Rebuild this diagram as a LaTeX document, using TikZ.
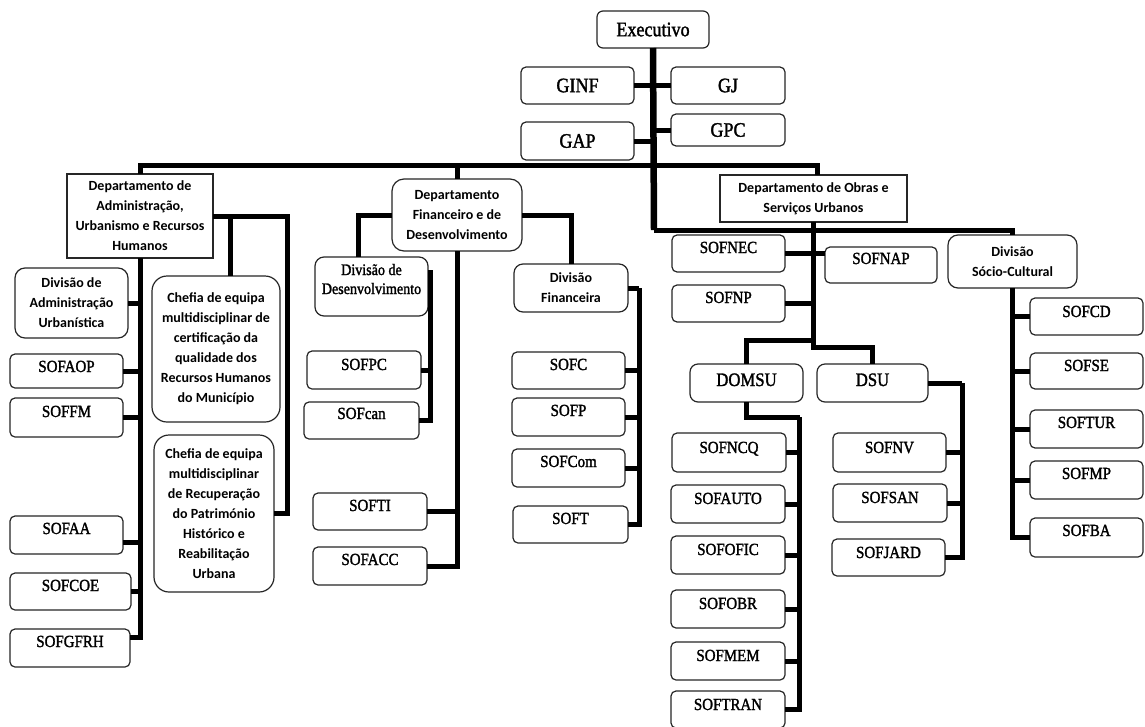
\documentclass[tikz,border=0pt]{standalone}
\usepackage{fontspec}
\setmainfont{Liberation Serif}
\newfontfamily\serf[FakeStretch=0.88,FakeBold=1.6]{Liberation Serif}
\newfontfamily\calb{Carlito}
\newcommand\mkbox[7]{%
 \pgfmathsetmacro\mbw{(#5)-(#3)}%
 \pgfmathsetmacro\mbh{(#6)-(#4)}%
 \node[#1, anchor=north west, minimum width=\mbw pt, minimum height=\mbh pt] (#2) at (#3,#4) {#7};}
\newcommand\mktbox[8]{%
 \pgfmathsetmacro\mbw{(#5)-(#3)}%
 \pgfmathsetmacro\mbd{(#6)-(#4)-(#8)}%
 \node[#1, anchor=north west, inner ysep=0pt, minimum width=\mbw pt, text height=#8pt, text depth=\mbd pt] (#2) at (#3,#4) {#7};}
\tikzset{
 bx/.style={draw=black!85, line width=1.2pt, fill=white, outer sep=0pt, inner sep=0pt, rounded corners=5pt},
 sof/.style={bx, font=\serf\fontsize{17}{19}\selectfont},
 gx/.style={bx, font=\serf\fontsize{20.5}{22}\selectfont},
 big/.style={bx, font=\serf\fontsize{19}{21}\selectfont, rounded corners=8pt},
 sn/.style={bx, font=\calb\bfseries\fontsize{14}{20}\selectfont, align=center},
 conn/.style={line width=5pt, line join=miter},
 trunk/.style={line width=6.5pt},
}
\begin{document}
\begin{tikzpicture}[x=1pt,y=-1pt]
\fill[white] (0,0) rectangle (1145,726);
\useasboundingbox (0,0) rectangle (1145,726);

% top
\mkbox{gx, rounded corners=6pt}{exec}{597}{11}{709}{48}{Executivo}
\mkbox{gx}{ginf}{521}{67}{634}{104}{GINF}
\mkbox{gx}{gj}{671}{67}{785}{104}{GJ}
\mkbox{gx}{gap}{521}{122}{634}{160}{GAP}
\mkbox{gx}{gpc}{671}{114}{785}{146}{GPC}

% left department
\mkbox{sn, sharp corners}{admin}{67}{174}{213}{258}{Departamento de\\Administração,\\Urbanismo e Recursos\\Humanos}
\mkbox{sn, rounded corners=10pt}{divadm}{15}{268}{128}{338}{Divisão de\\Administração\\Urbanística}
\mktbox{sof}{sofaop}{10}{354}{123}{388}{SOFAOP}{18}
\mktbox{sof}{soffm}{10}{398}{123}{437}{SOFFM}{19}
\mktbox{sof}{sofaa}{10}{516}{123}{554}{SOFAA}{18}
\mktbox{sof}{sofcoe}{10}{573}{131}{610}{SOFCOE}{18}
\mktbox{sof}{sofgfrh}{10}{629}{130}{667}{SOFGFRH}{18}
\mkbox{sn, rounded corners=15pt}{chefia1}{152}{276}{280}{422}{Chefia de equipa\\multidisciplinar de\\certificação da\\qualidade dos\\Recursos Humanos\\do Município}
\mkbox{sn, rounded corners=15pt}{chefia2}{154}{435}{274}{592}{Chefia de equipa\\multidisciplinar\\de Recuperação\\do Património\\Histórico e\\Reabilitação\\Urbana}

% middle department
\mkbox{sn, rounded corners=12pt}{deptfin}{392}{179}{522}{251}{Departamento\\Financeiro e de\\Desenvolvimento}
\mktbox{sof, font=\serf\fontsize{16}{19}\selectfont, rounded corners=9pt}{divdes}{315}{257}{428}{316}{\begin{tabular}[t]{@{}c@{}}Divisão de\\Desenvolvimento\end{tabular}}{18}
\mktbox{sof}{sofpc}{307}{351}{421}{389}{SOFPC}{19}
\mktbox{sof}{sofcan}{304}{402}{419}{439}{SOFcan}{17}
\mktbox{sof}{softi}{313}{493}{427}{530}{SOFTI}{18}
\mktbox{sof}{sofacc}{313}{547}{427}{585}{SOFACC}{18}
\mkbox{sn, rounded corners=9pt}{divfin}{514}{264}{628}{312}{Divisão\\Financeira}
\mktbox{sof}{sofc}{512}{352}{625}{389}{SOFC}{18}
\mktbox{sof}{sofp}{512}{398}{625}{436}{SOFP}{18}
\mktbox{sof}{sofcom}{512}{449}{625}{487}{SOFCom}{18}
\mktbox{sof}{soft}{513}{506}{628}{543}{SOFT}{18}

% right department
\mkbox{sn, sharp corners}{obras}{720}{175}{907}{222}{Departamento de Obras e\\Serviços Urbanos}
\mktbox{sof}{sofnec}{672}{235}{785}{272}{SOFNEC}{18}
\mktbox{sof}{sofnap}{825}{247}{937}{283}{SOFNAP}{17}
\mktbox{sof}{sofnp}{672}{285}{785}{322}{SOFNP}{18}
\mktbox{big}{domsu}{690}{364}{803}{402}{DOMSU}{22}
\mktbox{big}{dsu}{817}{364}{928}{402}{DSU}{22}
\mktbox{sof}{sofncq}{672}{433}{786}{472}{SOFNCQ}{20}
\mktbox{sof}{sofauto}{671}{485}{785}{523}{SOFAUTO}{19}
\mktbox{sof}{sofofic}{671}{536}{785}{574}{SOFOFIC}{19}
\mktbox{sof}{sofobr}{671}{590}{785}{628}{SOFOBR}{19}
\mktbox{sof}{sofmem}{671}{642}{785}{680}{SOFMEM}{19}
\mktbox{sof}{softran}{671}{691}{785}{728}{SOFTRAN}{19}
\mktbox{sof}{sofnv}{833}{433}{946}{472}{SOFNV}{20}
\mktbox{sof}{sofsan}{833}{484}{947}{522}{SOFSAN}{19}
\mktbox{sof}{sofjard}{832}{539}{945}{576}{SOFJARD}{19}
\mkbox{sn, rounded corners=10pt}{divsc}{948}{235}{1077}{288}{Divisão\\Sócio-Cultural}
\mktbox{sof}{sofcd}{1030}{298}{1143}{335}{SOFCD}{19}
\mktbox{sof}{sofse}{1030}{353}{1143}{389}{SOFSE}{18}
\mktbox{sof}{softur}{1030}{410}{1143}{448}{SOFTUR}{18}
\mktbox{sof}{sofmp}{1030}{461}{1143}{499}{SOFMP}{18}
\mktbox{sof}{sofba}{1030}{518}{1143}{557}{SOFBA}{18}

% ---- connectors ----
\coordinate (ek) at (654,230);
\draw[trunk] (exec.south) -- (ek);
\draw[conn] (ek) -| (divsc.north);
\draw[conn] (ginf.east) -- (gj.west);
\draw[conn] (gap.east) -- (gap.east -| exec.south);
\draw[conn] (gpc.west) -- (gpc.west -| exec.south);
\draw[conn] (admin.north) -- ++(0,-9) -| ([xshift=4pt]obras.north);
\draw[conn] (deptfin.north) -- ++(0,-14);

% left
\draw[conn] (divadm.east) -| (admin.south);
\draw[conn] (sofaop.east) -| (admin.south);
\draw[conn] (soffm.east) -| (admin.south);
\draw[conn] ([yshift=-26pt]sofaa.north east) -| (admin.south);
\draw[conn] (sofcoe.east) -| (admin.south);
\draw[conn] ([yshift=-8pt]sofgfrh.north east) -| (admin.south);
\draw[conn] (admin.east) -| ([xshift=13pt]chefia2.east) -- (chefia2.east);
\draw[conn] ([xshift=14pt]chefia1.north) |- (admin.east);

% middle
\draw[conn] (deptfin.west) -| ([xshift=-13pt]divdes.north);
\draw[conn] (deptfin.east) -| (divfin.north);
\coordinate (ddT) at ([xshift=2pt,yshift=-13pt]divdes.north east);
\draw[conn] (sofpc.east) -| (ddT);
\draw[conn] (sofcan.east) -| (ddT);
\draw[conn] (softi.east) -| (deptfin.south);
\draw[conn] (sofacc.east) -| (deptfin.south);
\coordinate (dfT) at ([xshift=11pt]divfin.east);
\draw[conn] (divfin.east) -- (dfT);
\draw[conn] (sofc.east) -| (dfT);
\draw[conn] (sofp.east) -| (dfT);
\draw[conn] (sofcom.east) -| (dfT);
\draw[conn] (soft.east) -| (dfT);

% right
\draw[conn] (obras.south) -- ++(0,125) -| (dsu.north);
\draw[conn] (domsu.north) -- ++(0,-24) -| (obras.south);
\draw[conn] (sofnec.east) -- (sofnap.west |- sofnec.east);
\draw[conn] (sofnp.east) -| (obras.south);
\coordinate (dmT) at ([xshift=53pt,yshift=-15pt]domsu.south);
\draw[conn] (domsu.south) |- (dmT);
\draw[conn] (sofncq.east) -| (dmT);
\draw[conn] (sofauto.east) -| (dmT);
\draw[conn] (sofofic.east) -| (dmT);
\draw[conn] (sofobr.east) -| (dmT);
\draw[conn] (sofmem.east) -| (dmT);
\draw[conn] (softran.east) -| (dmT);
\coordinate (dsT) at ([xshift=34pt]dsu.east);
\draw[conn] (dsu.east) -- (dsT);
\draw[conn] (sofnv.east) -| (dsT);
\draw[conn] (sofsan.east) -| (dsT);
\draw[conn] (sofjard.east) -| (dsT);
\draw[conn] (sofcd.west) -| (divsc.south);
\draw[conn] (sofse.west) -| (divsc.south);
\draw[conn] (softur.west) -| (divsc.south);
\draw[conn] (sofmp.west) -| (divsc.south);
\draw[conn] (sofba.west) -| (divsc.south);
\end{tikzpicture}
\end{document}
